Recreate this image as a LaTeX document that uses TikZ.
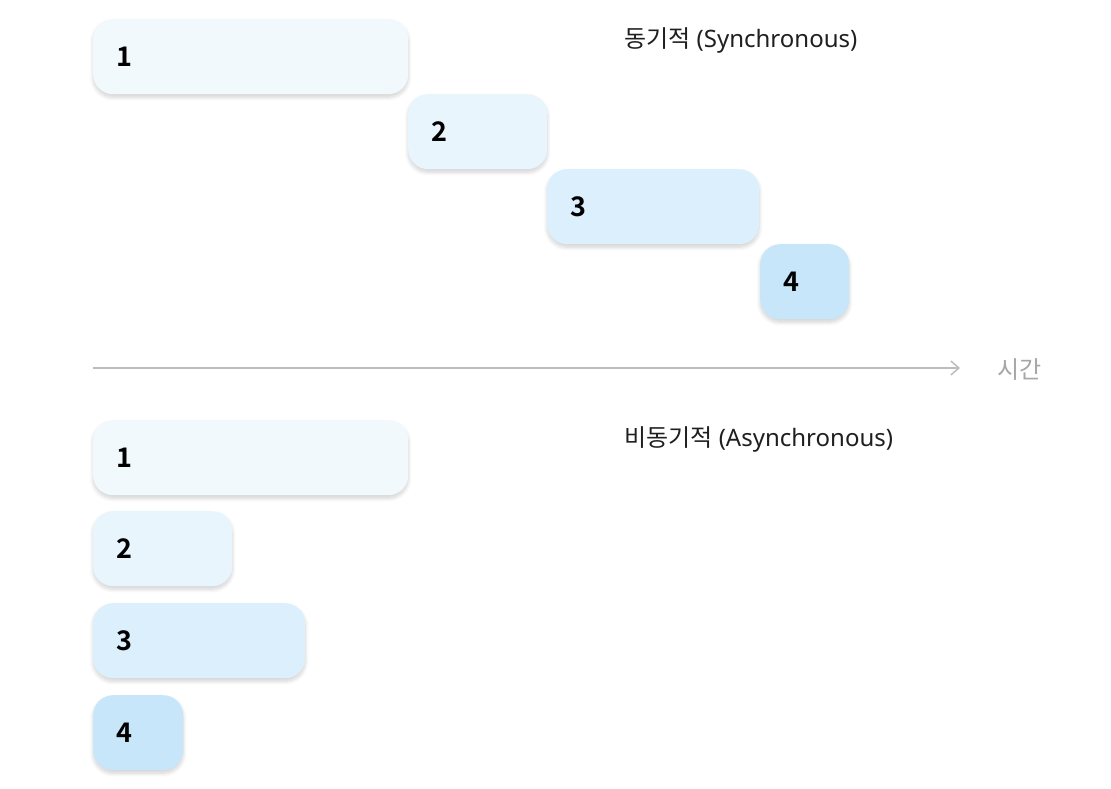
\documentclass[tikz,border=0pt]{standalone}
\usepackage{fontspec}
\setmainfont{Noto Sans}
\newfontfamily\kr{Noto Sans CJK KR}
\newfontfamily\krbold{Noto Sans CJK KR Bold}
\usetikzlibrary{arrows.meta,shadows.blur}
\definecolor{c1}{HTML}{F2F9FD}
\definecolor{c2}{HTML}{E8F5FD}
\definecolor{c3}{HTML}{DCEFFC}
\definecolor{c4}{HTML}{C8E6FA}
\definecolor{axisgray}{HTML}{BDBDBD}
\definecolor{timegray}{HTML}{A6A6A6}
\tikzset{
  bar/.style={rounded corners=20pt, anchor=north west, draw=none, minimum height=75pt,
    inner xsep=23pt, inner ysep=0pt, align=left, font=\krbold\fontsize{27}{30}\selectfont,
    blur shadow={shadow xshift=0pt, shadow yshift=-3pt, shadow blur radius=4pt, shadow opacity=18, shadow blur steps=8}},
  title/.style={anchor=west, inner sep=0pt, font=\fontsize{24}{28}\selectfont, text=black!88},
}
\newcommand{\barnode}[6]{% name, x, y, width, color, text
  \node[bar, fill=#5, minimum width=#4pt, text width={#4pt-46pt}] (#1) at (#2,#3) {#6};}
\begin{document}
\begin{tikzpicture}[x=1pt,y=-1pt]
\useasboundingbox (0,0) rectangle (1111,789);
% synchronous
\barnode{s1}{93}{19}{315}{c1}{1}
\barnode{s2}{408}{94}{139}{c2}{2}
\barnode{s3}{547}{169}{212}{c3}{3}
\barnode{s4}{760}{244}{89}{c4}{4}
\node[title] (st) at (624,40) {{\kr 동기적} (Synchronous)};
% time axis
\coordinate (a0) at (93,368);
\coordinate (a1) at (960,368);
\draw[axisgray, line width=1.5pt, -{Straight Barb[length=8pt,width=14pt,line width=1.5pt]}] (a0) -- (a1);
\node[anchor=west, inner sep=0pt, text=timegray, font=\kr\fontsize{24}{28}\selectfont] (tl) at (997,370) {시간};
% asynchronous
\node[title] (at) at (624,439) {{\kr 비동기적} (Asynchronous)};
\barnode{a1b}{93}{420}{315}{c1}{1}
\barnode{a2b}{93}{511}{139}{c2}{2}
\barnode{a3b}{93}{603}{212}{c3}{3}
\barnode{a4b}{93}{695}{90}{c4}{4}
\end{tikzpicture}
\end{document}
